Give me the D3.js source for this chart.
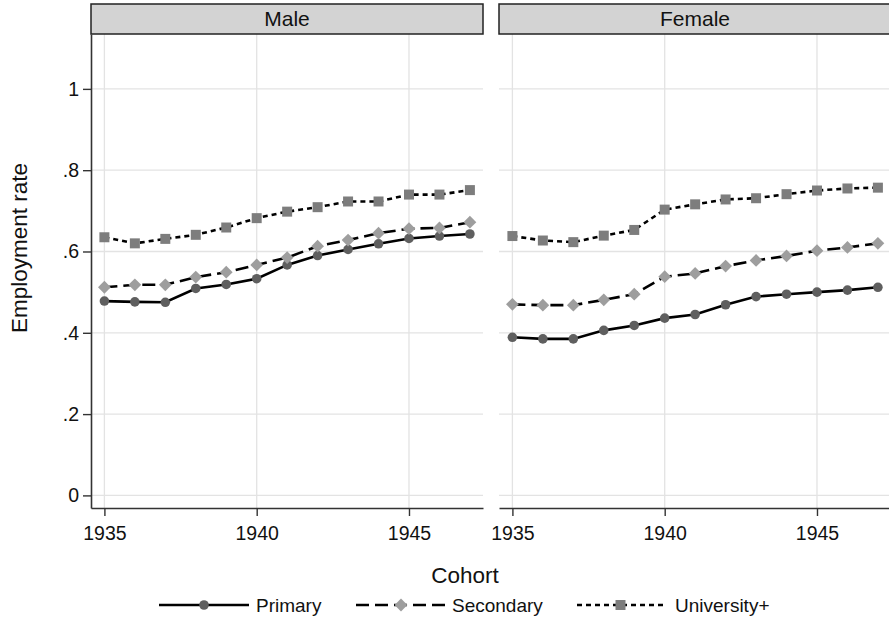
<!DOCTYPE html>
<html><head><meta charset="utf-8">
<script src="https://cdn.jsdelivr.net/npm/d3@7"></script>
<style>body{margin:0;background:#fff}svg{display:block}text{font-family:Arial,"Liberation Sans",sans-serif;fill:#111}</style>
</head><body><svg id="c" width="889" height="620"></svg>
<script>
const cohorts = [1935,1936,1937,1938,1939,1940,1941,1942,1943,1944,1945,1946,1947];
const panels = ["Male","Female"];
const seriesNames = ["Primary","Secondary","University+"];
const malePrimary    = [0.478,0.476,0.475,0.509,0.519,0.533,0.567,0.590,0.605,0.619,0.632,0.638,0.643];
const maleSecondary  = [0.512,0.518,0.518,0.537,0.549,0.567,0.585,0.613,0.628,0.645,0.656,0.658,0.672];
const maleUniversity = [0.635,0.620,0.631,0.641,0.659,0.682,0.698,0.709,0.723,0.723,0.740,0.740,0.751];
const femalePrimary    = [0.389,0.385,0.385,0.406,0.418,0.436,0.445,0.469,0.489,0.495,0.500,0.505,0.512];
const femaleSecondary  = [0.470,0.468,0.468,0.481,0.495,0.538,0.546,0.564,0.578,0.589,0.602,0.610,0.620];
const femaleUniversity = [0.638,0.627,0.623,0.639,0.653,0.703,0.716,0.728,0.731,0.741,0.750,0.755,0.757];
const yTicks = [0,0.2,0.4,0.6,0.8,1];
const yTickLabels = ["0",".2",".4",".6",".8","1"];
const xTicks = [1935,1940,1945];

const data = {
  Male: [malePrimary, maleSecondary, maleUniversity],
  Female: [femalePrimary, femaleSecondary, femaleUniversity]
};
const styles = [
  {dash:null, fill:"#5f5f5f", sym:d3.symbolCircle, size:72, rot:0},
  {dash:"13,6", fill:"#9e9e9e", sym:d3.symbolSquare, size:82, rot:45},
  {dash:"5,4", fill:"#7d7d7d", sym:d3.symbolSquare, size:100, rot:0}
];

const svg = d3.select("#c");
const plotTop = 34, plotBottom = 508;
const y = d3.scaleLinear().domain([-0.031, 1.135]).range([plotBottom, plotTop]);
const panelX = [[91,483],[499,891]];

panels.forEach((p, i) => {
  const [x0, x1] = panelX[i];
  const x = d3.scaleLinear().domain([1934.56, 1947.43]).range([x0, x1]);
  const g = svg.append("g");
  // gridlines
  g.selectAll(".hg").data(yTicks).join("line")
    .attr("x1", x0).attr("x2", x1).attr("y1", d => y(d)).attr("y2", d => y(d))
    .attr("stroke", "#e3e3e3").attr("stroke-width", 1.3);
  g.selectAll(".vg").data(xTicks).join("line")
    .attr("x1", d => x(d)).attr("x2", d => x(d)).attr("y1", plotTop).attr("y2", plotBottom)
    .attr("stroke", "#e3e3e3").attr("stroke-width", 1.3);
  // strip
  g.append("rect").attr("x", x0).attr("y", 4).attr("width", x1 - x0).attr("height", plotTop - 4)
    .attr("fill", "#d3d3d3").attr("stroke", "#222").attr("stroke-width", 1.5);
  g.append("text").attr("x", (x0 + x1) / 2).attr("y", 26).attr("text-anchor", "middle")
    .attr("font-size", 21).text(p);
  // x axis
  const xa = g.append("g").attr("transform", `translate(0,${plotBottom})`)
    .call(d3.axisBottom(x).tickValues(xTicks).tickFormat(d3.format("d")).tickSize(8).tickPadding(10).tickSizeOuter(0));
  xa.select(".domain").attr("stroke", "#333").attr("stroke-width", 1.6);
  xa.selectAll(".tick line").attr("stroke", "#333").attr("stroke-width", 1.4);
  xa.selectAll(".tick text").attr("font-size", 19.5).attr("fill", "#111");
  if (i === 0) {
    const ya = g.append("g").attr("transform", `translate(${x0},0)`)
      .call(d3.axisLeft(y).tickValues(yTicks).tickFormat((d, k) => yTickLabels[k]).tickSize(8).tickPadding(4).tickSizeOuter(0));
    ya.select(".domain").attr("stroke", "#333").attr("stroke-width", 1.6);
    ya.selectAll(".tick line").attr("stroke", "#333").attr("stroke-width", 1.4);
    ya.selectAll(".tick text").attr("font-size", 19.5).attr("fill", "#111");
  }
  // series
  const line = d3.line().x((d, k) => x(cohorts[k])).y(d => y(d));
  data[p].forEach((vals, s) => {
    const st = styles[s];
    g.append("path").datum(vals).attr("d", line).attr("fill", "none")
      .attr("stroke", "#000").attr("stroke-width", 2.6)
      .attr("stroke-dasharray", st.dash);
  });
  data[p].forEach((vals, s) => {
    const st = styles[s];
    g.selectAll(null).data(vals).join("path")
      .attr("transform", (d, k) => `translate(${x(cohorts[k])},${y(d)}) rotate(${st.rot})`)
      .attr("d", d3.symbol(st.sym, st.size)).attr("fill", st.fill);
  });
});

// axis titles
svg.append("text").attr("transform", "translate(27,248) rotate(-90)").attr("text-anchor", "middle")
  .attr("font-size", 22.5).text("Employment rate");
svg.append("text").attr("x", 465).attr("y", 583).attr("text-anchor", "middle")
  .attr("font-size", 22.5).text("Cohort");

// legend
const legend = [
  {x1:159, x2:249, tx:256},
  {x1:356, x2:446, tx:452},
  {x1:577, x2:664, tx:675}
];
legend.forEach((L, s) => {
  const st = styles[s];
  const ly = 605;
  svg.append("line").attr("x1", L.x1).attr("x2", L.x2).attr("y1", ly).attr("y2", ly)
    .attr("stroke", "#000").attr("stroke-width", 2.6).attr("stroke-dasharray", st.dash);
  svg.append("path").attr("transform", `translate(${(L.x1 + L.x2) / 2},${ly}) rotate(${st.rot})`)
    .attr("d", d3.symbol(st.sym, st.size)).attr("fill", st.fill);
  svg.append("text").attr("x", L.tx).attr("y", ly + 7).attr("font-size", 19).text(seriesNames[s]);
});
</script></body></html>
